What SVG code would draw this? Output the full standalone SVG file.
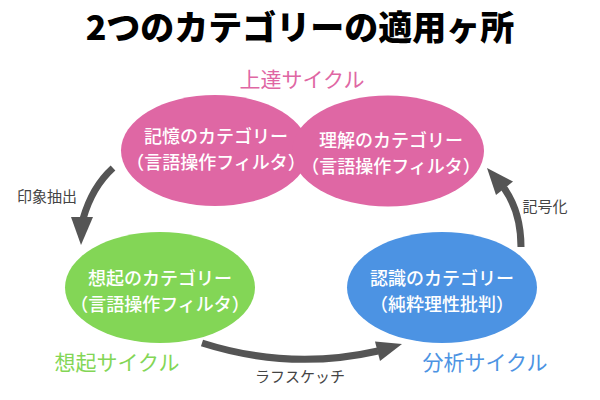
<svg xmlns="http://www.w3.org/2000/svg" width="600" height="400" viewBox="0 0 600 400">
<style>
text{font-family:"Noto Sans CJK JP","Noto Sans",sans-serif;text-anchor:middle}
.title{font-size:34px;font-weight:900;fill:#000}
.node{font-size:18px;fill:#fff;font-weight:500}
.cyc{font-size:21px}
.lbl{font-size:15px;fill:#444}
.pink{fill:#DF67A4}
.green{fill:#83D656}
.blue{fill:#4C93E3}
.conn{fill:none;stroke:#555;stroke-width:7}
.head{fill:#555}
</style>
<rect width="600" height="400" fill="#fff"/>
<text class="title" x="300" y="40">2つのカテゴリーの適用ヶ所</text>
<g id="memory">
<ellipse class="pink" cx="215" cy="150.5" rx="94" ry="55.5"/>
<text class="node" x="216" y="143">記憶のカテゴリー</text>
<text class="node" x="216" y="169">（言語操作フィルタ）</text>
</g>
<g id="understanding">
<ellipse class="pink" cx="388" cy="151" rx="96" ry="55.5"/>
<text class="node" x="391" y="147">理解のカテゴリー</text>
<text class="node" x="391" y="173">（言語操作フィルタ）</text>
</g>
<g id="recall">
<ellipse class="green" cx="160" cy="287.5" rx="95" ry="55.5"/>
<text class="node" x="160" y="285">想起のカテゴリー</text>
<text class="node" x="160" y="311">（言語操作フィルタ）</text>
</g>
<g id="cognition">
<ellipse class="blue" cx="442" cy="287.5" rx="95" ry="55.5"/>
<text class="node" x="442" y="285">認識のカテゴリー</text>
<text class="node" x="442" y="311">（純粋理性批判）</text>
</g>
<text class="cyc pink" x="302" y="87">上達サイクル</text>
<text class="cyc green" x="117" y="370">想起サイクル</text>
<text class="cyc blue" x="485" y="370">分析サイクル</text>
<g id="connectors">
<path class="conn" d="M113,168 Q92,187 83,219"/>
<polygon class="head" points="71,217 93,217 81,245"/>
<path class="conn" d="M202,343 Q290,371 378,351"/>
<polygon class="head" points="375,341.5 402,344 380,361"/>
<path class="conn" d="M521,247 Q521,212 504,188"/>
<polygon class="head" points="496,195 513,181.5 487,168"/>
<text class="lbl" x="47" y="202">印象抽出</text>
<text class="lbl" x="300" y="382">ラフスケッチ</text>
<text class="lbl" x="545" y="212">記号化</text>
</g>
</svg>
